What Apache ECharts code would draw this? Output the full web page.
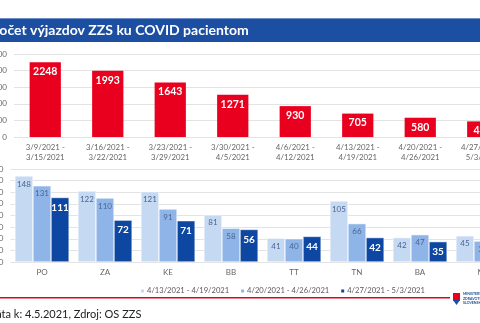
<!DOCTYPE html>
<html><head><meta charset="utf-8">
<script src="https://cdn.jsdelivr.net/npm/echarts@6/dist/echarts.min.js"></script>
<style>html,body{margin:0;padding:0;background:#fff;}#c{width:480px;height:323px;}</style>
</head><body><div id="c"></div>
<script>
var weeks = ['3/9/2021 -\n3/15/2021','3/16/2021 -\n3/22/2021','3/23/2021 -\n3/29/2021','3/30/2021 -\n4/5/2021','4/6/2021 -\n4/12/2021','4/13/2021 -\n4/19/2021','4/20/2021 -\n4/26/2021','4/27/2021 -\n5/3/2021'];
var weekValues = [2248,1993,1643,1271,930,705,580,470];
var regions = ['PO','ZA','KE','BB','TT','TN','BA','NR'];
var seriesNames = ['4/13/2021 - 4/19/2021','4/20/2021 - 4/26/2021','4/27/2021 - 5/3/2021'];
var week1 = [148,122,121,81,41,105,42,45];
var week2 = [131,110,91,58,40,66,47,36];
var week3 = [111,72,71,56,44,42,35,33];
var titleText = 'Počet výjazdov ZZS ku COVID pacientom';
var footerText = 'Dáta k: 4.5.2021, Zdroj: OS ZZS';

var F = 'Lato, "Open Sans", sans-serif';
var chart = echarts.init(document.getElementById('c'));
var lightLbl = {show:true, position:'insideTop', distance:4, color:'#4a6590', fontSize:8, fontFamily:F};
var plain = function(v){return String(v);};
chart.setOption({
  animation:false,
  textStyle:{fontFamily:F},
  grid:[
    {left:14, top:54, width:500, height:83, containLabel:false, outerBoundsMode:'none'},
    {left:10.5, top:169, width:504, height:93, containLabel:false, outerBoundsMode:'none'}
  ],
  xAxis:[
    {type:'category', gridIndex:0, data:weeks, axisLine:{show:false}, axisTick:{show:false},
     axisLabel:{color:'#666', fontSize:7.8, lineHeight:10, margin:5, interval:0, fontFamily:F, hideOverlap:false}},
    {type:'category', gridIndex:1, data:regions, axisLine:{show:false}, axisTick:{show:false},
     axisLabel:{color:'#666', fontSize:8, margin:6, interval:0, fontFamily:F, hideOverlap:false}}
  ],
  yAxis:[
    {type:'value', gridIndex:0, min:0, max:2500, interval:500,
     axisLabel:{color:'#666', fontSize:8, margin:7, fontFamily:F, formatter:plain},
     splitLine:{lineStyle:{color:'#e3e3e3', width:1}}},
    {type:'value', gridIndex:1, min:0, max:160, interval:20,
     axisLabel:{color:'#666', fontSize:8, margin:7, fontFamily:F, formatter:plain},
     splitLine:{lineStyle:{color:'#e3e3e3', width:1}}}
  ],
  legend:{data:seriesNames, left:134, top:282, itemWidth:5, itemHeight:5, itemGap:10,
    icon:'rect', textStyle:{color:'#595959', fontSize:7.6, fontFamily:F, width:68, overflow:'none', padding:[0,0,0,-3]}},
  series:[
    {type:'bar', xAxisIndex:0, yAxisIndex:0, data:weekValues, barWidth:'50%',
     itemStyle:{color:'#e8001e'},
     label:{show:true, position:'insideTop', distance:4, color:'#fff', fontWeight:'bold', fontSize:10.5, fontFamily:F}},
    {type:'bar', name:seriesNames[0], xAxisIndex:1, yAxisIndex:1, data:week1, barGap:'0%', barCategoryGap:'14%',
     itemStyle:{color:'#c6d9f3', borderColor:'#fff', borderWidth:0.5}, label:lightLbl},
    {type:'bar', name:seriesNames[1], xAxisIndex:1, yAxisIndex:1, data:week2, barGap:'0%', barCategoryGap:'14%',
     itemStyle:{color:'#8eb4e8', borderColor:'#fff', borderWidth:0.5}, label:lightLbl},
    {type:'bar', name:seriesNames[2], xAxisIndex:1, yAxisIndex:1, data:week3, barGap:'0%', barCategoryGap:'14%',
     itemStyle:{color:'#0d47a1', borderColor:'#fff', borderWidth:0.5},
     label:{show:true, position:'insideTop', distance:5, color:'#fff', fontWeight:'bold', fontSize:10, fontFamily:F}}
  ],
  graphic:[
    {type:'rect', shape:{x:0, y:18, width:480, height:24}, style:{fill:'#1c4fa1'}},
    {type:'rect', shape:{x:0, y:18, width:480, height:1}, style:{fill:'#6e8fc8'}},
    {type:'text', x:-9, y:30, style:{text:titleText, fill:'#fff', font:'bold 14px '+F, textVerticalAlign:'middle'}},
    {type:'rect', shape:{x:0, y:297, width:450, height:1.5}, style:{fill:'#e8001e'}},
    {type:'text', x:-12, y:314, style:{text:footerText, fill:'#222', font:'11px '+F, textVerticalAlign:'middle'}},
    {type:'rect', shape:{x:453, y:293, width:7, height:8}, style:{fill:'#e8001e'}},
    {type:'polygon', shape:{points:[[453,300],[460,300],[456.5,305]]}, style:{fill:'#1c4fa1'}},
    {type:'text', x:463, y:292, style:{text:'MINISTERSTVO\nZDRAVOTNÍCTVA\nSLOVENSKEJ REPUBLIKY', fill:'#1c4fa1', font:'bold 3.5px '+F, lineHeight:4.5}}
  ]
});
</script></body></html>
